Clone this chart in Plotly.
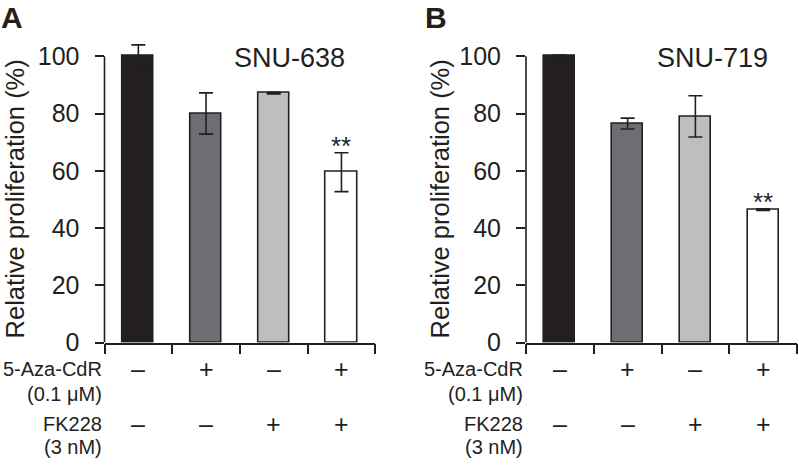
import plotly.graph_objects as go

# ---- data ----
categories = [1, 2, 3, 4]
bar_colors = ["#231f20", "#6d6e71", "#bcbec0", "#ffffff"]

a_values = [100.0, 80.0, 87.1, 59.5]
a_errors = [4.0, 7.2, 0.3, 6.8]
b_values = [100.0, 76.5, 79.0, 46.4]
b_errors = [0.4, 1.9, 7.2, 0.3]

panel_titles = ["SNU-638", "SNU-719"]
panel_letters = ["A", "B"]
y_ticks = [0, 20, 40, 60, 80, 100]
aza_signs = ["–", "+", "–", "+"]
fk_signs = ["–", "–", "+", "+"]
row_labels = ["5-Aza-CdR", "(0.1 μM)", "FK228", "(3 nM)"]
sig_marks = ["", "", "", "**"]

W, H = 799, 472
INK = "#231f20"
FONT = "Liberation Sans, Arial, sans-serif"

# pixel geometry
y0_px, ytop_px, px_per_unit = 353.0, 40.0, 2.95
ymax = (y0_px - ytop_px) / px_per_unit
ydom = [(H - y0_px) / H, (H - ytop_px) / H]
xdoms = [[104.5 / W, 375.3 / W], [526.0 / W, 797.0 / W]]

fig = go.Figure()
panels = [(a_values, a_errors), (b_values, b_errors)]

for i, (vals, errs) in enumerate(panels):
    xa = "x" if i == 0 else "x2"
    ya = "y" if i == 0 else "y2"
    fig.add_trace(go.Bar(
        x=categories, y=vals, xaxis=xa, yaxis=ya,
        width=0.46,
        marker=dict(color=bar_colors, line=dict(color=INK, width=1.6)),
        error_y=dict(type="data", array=errs, visible=True, color=INK,
                     thickness=1.6, width=7),
        showlegend=False, hoverinfo="skip",
    ))

axis_common = dict(showgrid=False, zeroline=False)
for i in range(2):
    sfx = "" if i == 0 else "2"
    fig.update_layout(**{
        f"xaxis{sfx}": dict(domain=xdoms[i], range=[0.5, 4.5], anchor=f"y{sfx}",
                            showline=True, linecolor=INK, linewidth=1.6,
                            ticks="outside", ticklen=10, tickwidth=1.6, tickcolor=INK,
                            tickvals=[0.5, 1.5, 2.5, 3.5, 4.5], showticklabels=False,
                            **axis_common),
        f"yaxis{sfx}": dict(domain=ydom, range=[0, ymax], anchor=f"x{sfx}",
                            showline=False, ticks="outside", ticklen=9, tickwidth=1.6,
                            tickcolor=INK, tickvals=y_ticks, ticklabelstandoff=10,
                            tickfont=dict(family=FONT, size=25, color=INK),
                            **axis_common),
    })

shapes = []
annotations = []
row_y_px = [380, 406, 437, 461]
title_x_px = [289, 712]
ytitle_x_px = [15, 440]
letter_x_px = [0, 424]
for i in range(2):
    sfx = "" if i == 0 else "2"
    xa, ya = f"x{sfx}", f"y{sfx}"
    # y axis line 0..100
    shapes.append(dict(type="line", xref=f"{xa} domain", yref=ya, x0=0, x1=0,
                       y0=0, y1=y_ticks[-1], line=dict(color=INK, width=1.6)))
    # panel letter
    annotations.append(dict(text=f"<b>{panel_letters[i]}</b>", xref="paper", yref="paper",
                            x=letter_x_px[i] / W, y=1, showarrow=False,
                            xanchor="left", yanchor="top", borderpad=0,
                            font=dict(family=FONT, size=30, color=INK)))
    # cell line title
    annotations.append(dict(text=panel_titles[i], xref="paper", yref="paper",
                            x=title_x_px[i] / W, y=1 - 60 / H, showarrow=False,
                            xanchor="center", yanchor="middle",
                            font=dict(family=FONT, size=27, color=INK)))
    # y axis title
    annotations.append(dict(text="Relative proliferation (%)", xref="paper", yref=ya,
                            x=ytitle_x_px[i] / W, y=50, showarrow=False, textangle=-90,
                            xanchor="center", yanchor="middle", borderpad=0,
                            font=dict(family=FONT, size=25.5, color=INK)))
    # row labels
    for lbl, ypx in zip(row_labels, row_y_px):
        annotations.append(dict(text=lbl, xref="paper", yref="paper",
                                x=(xdoms[i][0] * W - 2) / W, y=1 - ypx / H,
                                showarrow=False, xanchor="right", yanchor="middle",
                                borderpad=0,
                                font=dict(family=FONT, size=20, color=INK)))
    # signs
    for c, s1, s2 in zip(categories, aza_signs, fk_signs):
        annotations.append(dict(text=s1, xref=xa, yref="paper", x=c, y=1 - row_y_px[0] / H,
                                showarrow=False, xanchor="center", yanchor="middle",
                                font=dict(family=FONT, size=25, color=INK)))
        annotations.append(dict(text=s2, xref=xa, yref="paper", x=c, y=1 - row_y_px[2] / H,
                                showarrow=False, xanchor="center", yanchor="middle",
                                font=dict(family=FONT, size=25, color=INK)))
    # significance
    vals, errs = panels[i]
    for c, v, e, m in zip(categories, vals, errs, sig_marks):
        if m:
            annotations.append(dict(text=m, xref=xa, yref=ya, x=c, y=v + e + 2.5,
                                    showarrow=False, xanchor="center", yanchor="middle",
                                    font=dict(family=FONT, size=26, color=INK)))

fig.update_layout(
    width=W, height=H, margin=dict(l=0, r=0, t=0, b=0),
    paper_bgcolor="white", plot_bgcolor="white",
    shapes=shapes, annotations=annotations, bargap=0,
)

fig.write_html(
    "out.html",
    config={"displayModeBar": False},
    post_script="document.body.style.margin='0';document.body.style.overflow='hidden';",
)
